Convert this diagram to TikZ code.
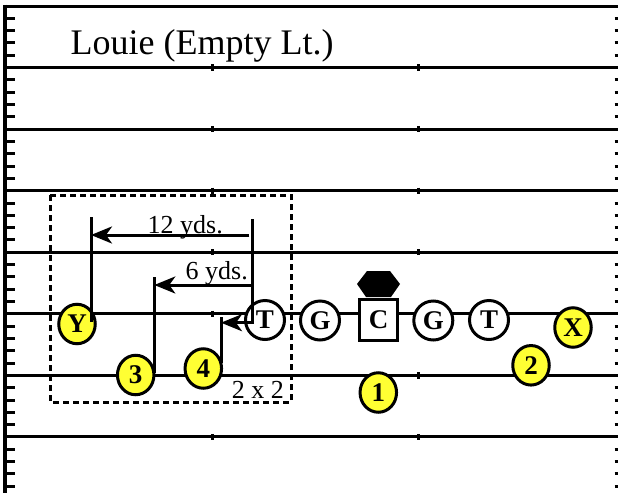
\documentclass[tikz,border=0pt]{standalone}
\usepackage{fontspec}
\setmainfont{Liberation Serif}
\usetikzlibrary{arrows.meta,shapes.geometric}
\definecolor{plyellow}{RGB}{255,255,51}
\begin{document}
\begin{tikzpicture}[x=1pt,y=-1pt,
  fieldline/.style={line width=3pt},
  tickmark/.style={line width=3pt},
  pfont/.style={font=\fontsize{27}{27}\selectfont\bfseries},
  yplayer/.style={ellipse,draw,line width=3pt,fill=plyellow,minimum width=36.5pt,minimum height=39.5pt,inner sep=0pt,pfont},
  wplayer/.style={circle,draw,line width=3pt,fill=white,minimum size=39pt,inner sep=0pt,pfont},
  ctrbox/.style={rectangle,draw,line width=3pt,fill=white,minimum width=38.5pt,minimum height=41pt,inner sep=0pt,pfont},
  route/.style={line width=3pt},
  routearrow/.style={route,-{Stealth[length=21pt,width=17pt,inset=6pt]}},
  yardtext/.style={inner sep=0pt,font=\fontsize{26}{26}\selectfont}]
\useasboundingbox (0,0) rectangle (618,493);
% field lines
\foreach \k in {0,...,7} {
  \pgfmathsetmacro\yy{6+61.57*\k}
  \draw[fieldline] (5,\yy) -- (618,\yy);
}
\foreach \k in {1,...,7} {
  \pgfmathsetmacro\yy{6+61.57*\k}
  \draw[tickmark] (212,{\yy-3.2}) -- (212,{\yy+3.2});
  \draw[tickmark] (418,{\yy-3.2}) -- (418,{\yy+3.2});
}
\foreach \j in {1,...,39} {
  \pgfmathtruncatemacro\rr{mod(\j,5)}
  \pgfmathsetmacro\yy{6+12.314*\j}
  \ifnum\rr>0
    \draw[tickmark] (5,\yy) -- (15,\yy);
    \draw[tickmark] (614.5,\yy) -- (618,\yy);
  \fi
}
\draw[line width=3.5pt] (5,4.5) -- (5,493);
% title
\node[anchor=base west,inner sep=0pt,font=\fontsize{36}{40}\selectfont] (title) at (70.5,54) {Louie (Empty Lt.)};
% formation box
\draw[line width=3pt,dash pattern=on 6pt off 4pt] (50,195) rectangle (291,402);
% players
\node[yplayer] (Y) at (77,324) {Y};
\node[yplayer] (n3) at (135.7,375) {3};
\node[yplayer] (n4) at (203.3,368.5) {4};
\node[wplayer] (lt) at (265,320) {T};
\node[wplayer] (lg) at (320,320.5) {G};
\node[ctrbox] (C) at (378.5,320) {C};
\node[wplayer] (rg) at (433.3,320.5) {G};
\node[wplayer] (rt) at (489,320) {T};
\node[yplayer] (X) at (573,327.5) {X};
\node[yplayer] (n2) at (531,365.3) {2};
\node[yplayer] (n1) at (378.3,392.5) {1};
% defender
\fill (357,284) -- (367,271) -- (390,271) -- (400,284) -- (391,297) -- (366,297) -- cycle;
% routes and measures
\coordinate (yTop) at (91,217);
\coordinate (yBot) at (91,322);
\coordinate (mTop) at (252.3,219);
\coordinate (mBot) at (252.3,322.7);
\coordinate (fourTip) at (221,322.7);
\coordinate (fourTop) at (221,317);
\coordinate (fourBot) at (221,363);
\coordinate (sixTop) at (154.3,277);
\coordinate (sixBot) at (154.3,373);
\coordinate (twelveR) at (249.3,235);
\coordinate (twelveL) at (91,235);
\coordinate (sixR) at (252.3,285);
\coordinate (sixL) at (154.3,285);
\draw[route] (yBot) -- (yTop);
\draw[route] (sixBot) -- (sixTop);
\draw[route] (fourBot) -- (fourTop);
\draw[routearrow] (twelveR) -- (twelveL);
\draw[routearrow] (sixR) -- (sixL);
\draw[routearrow] (mTop) -- (mBot) -- (fourTip);
% labels
\node[yardtext,anchor=base east] (t12) at (223,233) {12 yds.};
\node[yardtext,anchor=base east] (t6) at (248,279) {6 yds.};
\node[yardtext,anchor=base west] (t22) at (231.7,398) {2 x 2};
\end{tikzpicture}
\end{document}
